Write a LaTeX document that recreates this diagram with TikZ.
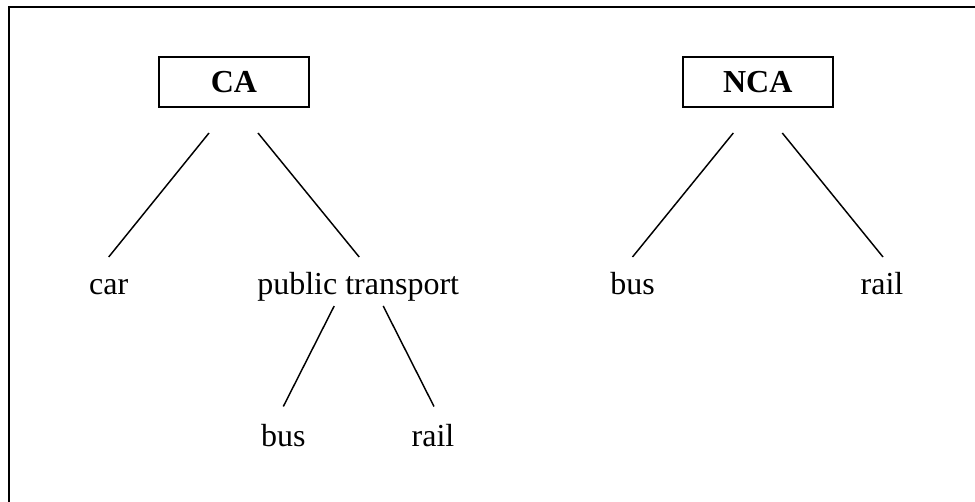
\documentclass[tikz,border=0pt]{standalone}
\usepackage{fontspec}
\setmainfont{Liberation Serif}
\usetikzlibrary{calc}
\tikzset{
  frame/.style={line width=1.5pt, line cap=rect},
  catbox/.style={draw, line width=1.5pt, minimum width=112.5pt, minimum height=37.5pt, inner sep=0pt, font=\fontsize{24}{28}\selectfont\bfseries},
  leaf/.style={anchor=base, inner sep=0pt, font=\fontsize{24}{28}\selectfont},
  branch/.style={line width=1.1pt}
}
\begin{document}
\begin{tikzpicture}[x=0.75pt,y=-0.75pt]
\useasboundingbox (0,0) rectangle (975,502);
\draw[frame] (9,503) -- (9,7) -- (977,7);
\node[catbox] (ca) at (234,82) {CA};
\node[catbox] (nca) at (757.7,82) {NCA};
\node[leaf] (car) at (108.7,295) {car};
\node[leaf] (pt) at (358.2,295) {public transport};
\node[leaf] (busA) at (283.3,446) {bus};
\node[leaf] (railA) at (433,446) {rail};
\node[leaf] (busB) at (632.5,295) {bus};
\node[leaf] (railB) at (882,295) {rail};
\draw[branch] ($(ca.south)+(-25,25)$) -- ($(car.base)+(0,-38)$);
\draw[branch] ($(ca.south)+(24,25)$) -- ($(pt.base)+(1,-38)$);
\draw[branch] ($(pt.base)+(-24,11)$) -- ($(busA.base)+(0,-39.5)$);
\draw[branch] ($(pt.base)+(25,11)$) -- ($(railA.base)+(1,-39.5)$);
\draw[branch] ($(nca.south)+(-24.4,25)$) -- ($(busB.base)+(0,-38)$);
\draw[branch] ($(nca.south)+(24.6,25)$) -- ($(railB.base)+(1,-38)$);
\end{tikzpicture}
\end{document}
